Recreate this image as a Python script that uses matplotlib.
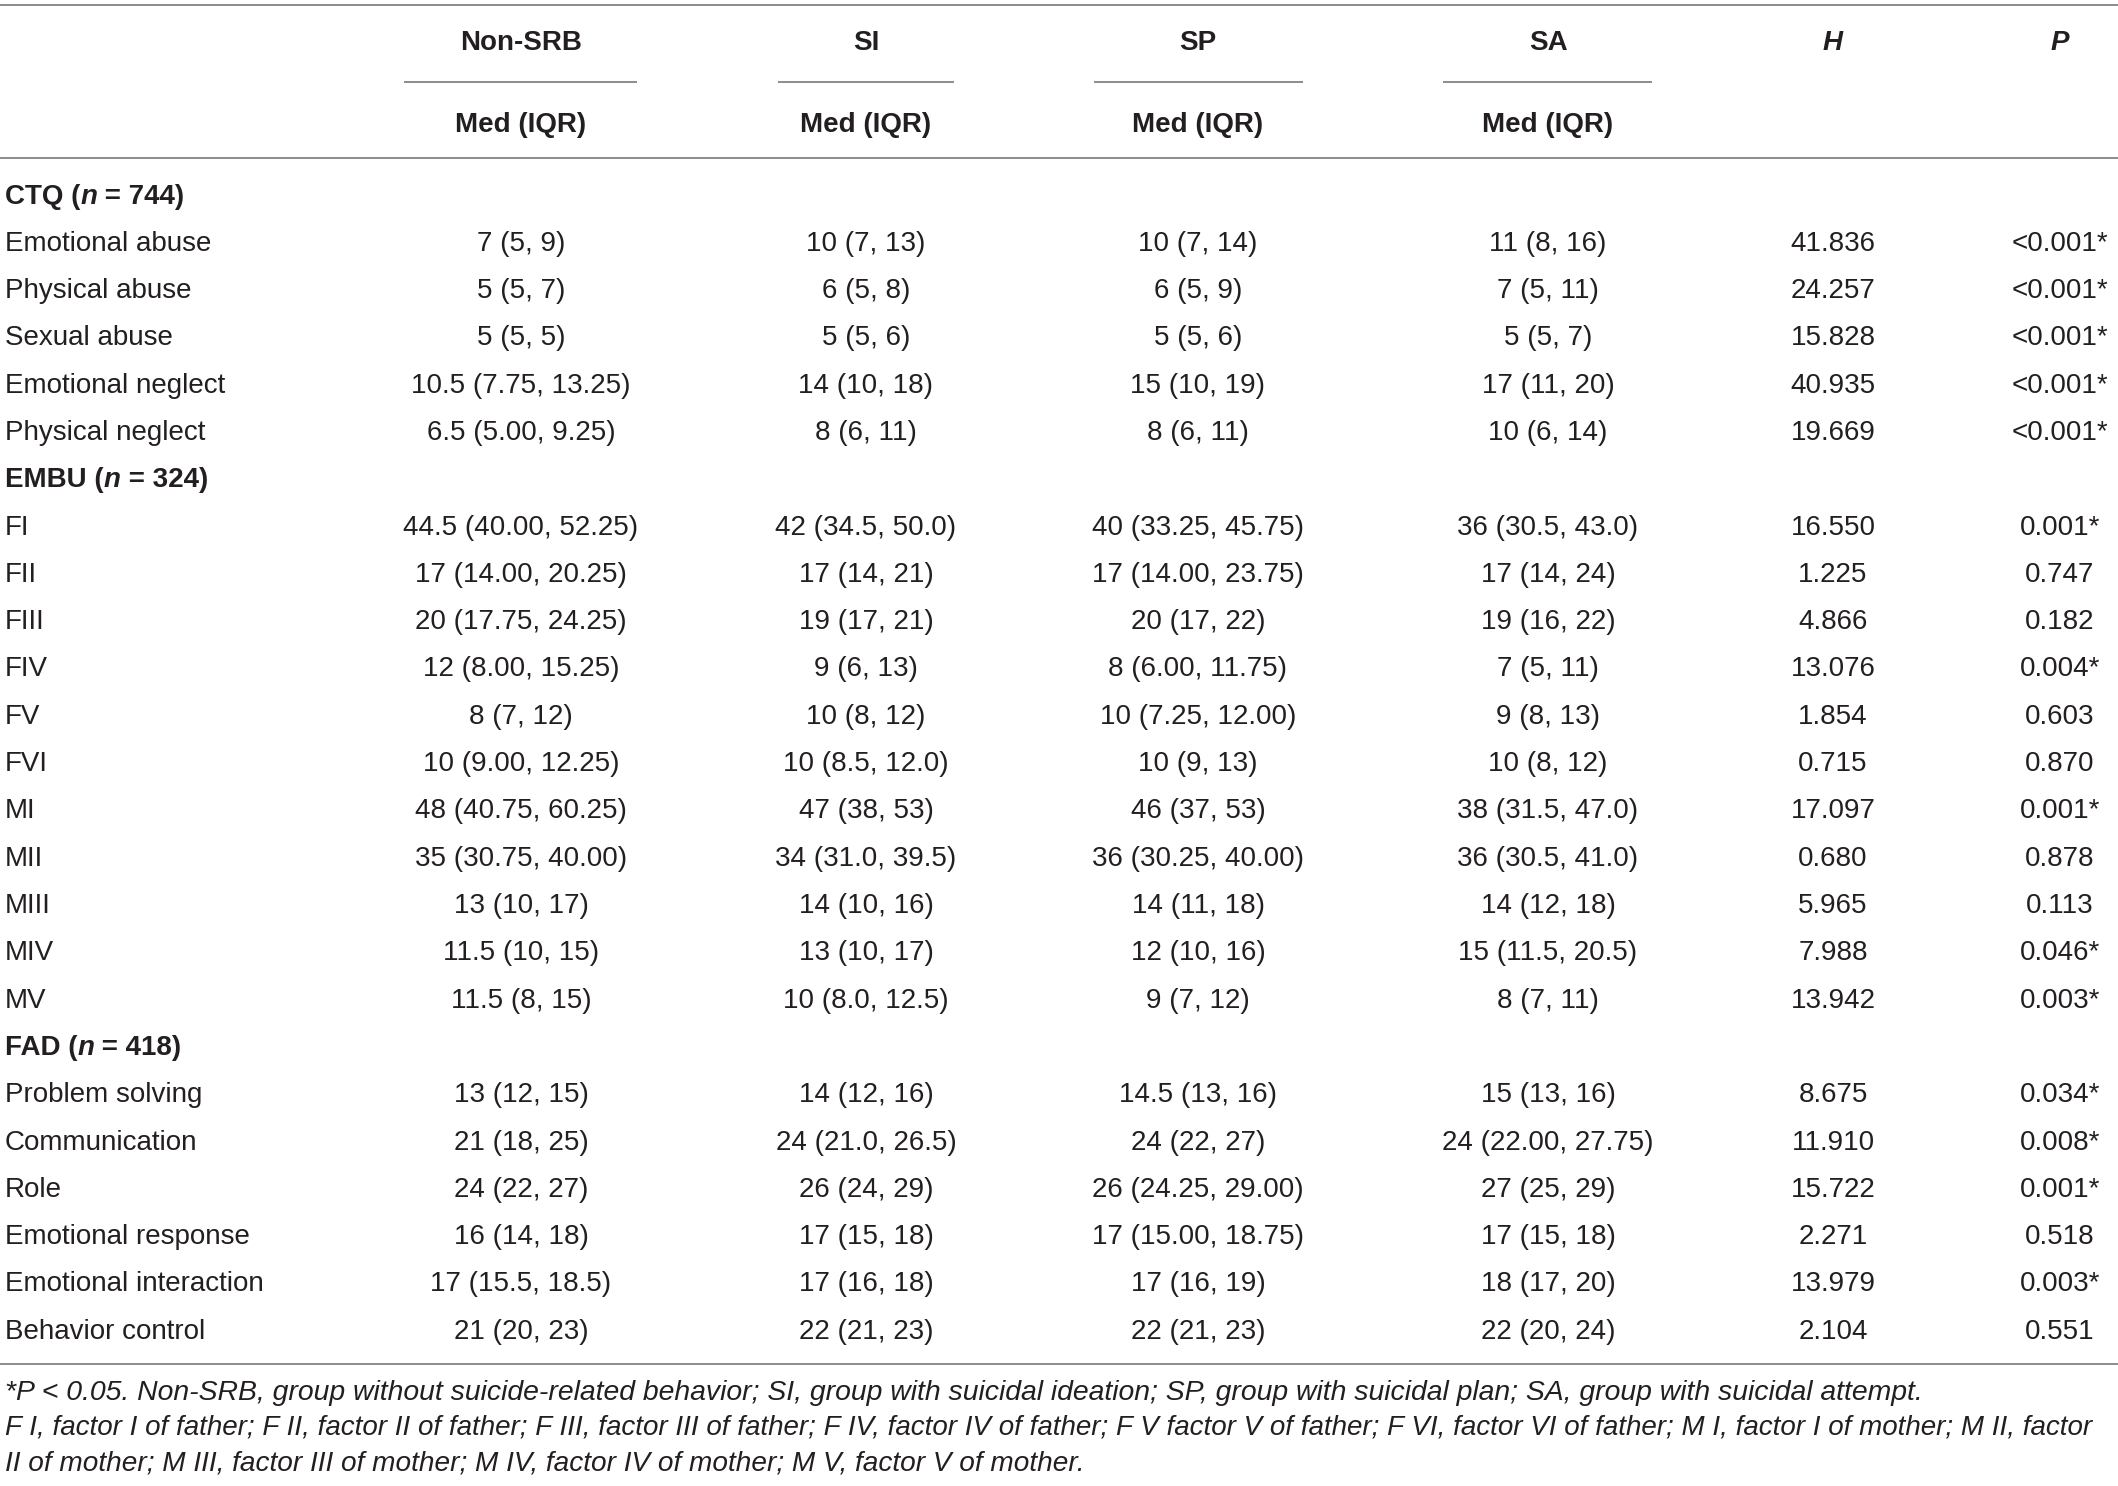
import matplotlib.pyplot as plt

plt.rcParams['font.family'] = ['Liberation Sans', 'DejaVu Sans']

# ---- table data ----
groups = ['Non-SRB', 'SI', 'SP', 'SA']
sections = ['CTQ', 'EMBU', 'FAD']
section_n = [744, 324, 418]

ctq_labels = ['Emotional abuse', 'Physical abuse', 'Sexual abuse',
              'Emotional neglect', 'Physical neglect']
ctq_nonsrb = ['7 (5, 9)', '5 (5, 7)', '5 (5, 5)', '10.5 (7.75, 13.25)', '6.5 (5.00, 9.25)']
ctq_si = ['10 (7, 13)', '6 (5, 8)', '5 (5, 6)', '14 (10, 18)', '8 (6, 11)']
ctq_sp = ['10 (7, 14)', '6 (5, 9)', '5 (5, 6)', '15 (10, 19)', '8 (6, 11)']
ctq_sa = ['11 (8, 16)', '7 (5, 11)', '5 (5, 7)', '17 (11, 20)', '10 (6, 14)']
ctq_h = ['41.836', '24.257', '15.828', '40.935', '19.669']
ctq_p = ['<0.001*', '<0.001*', '<0.001*', '<0.001*', '<0.001*']

embu_labels = ['FI', 'FII', 'FIII', 'FIV', 'FV', 'FVI', 'MI', 'MII', 'MIII', 'MIV', 'MV']
embu_nonsrb = ['44.5 (40.00, 52.25)', '17 (14.00, 20.25)', '20 (17.75, 24.25)',
               '12 (8.00, 15.25)', '8 (7, 12)', '10 (9.00, 12.25)', '48 (40.75, 60.25)',
               '35 (30.75, 40.00)', '13 (10, 17)', '11.5 (10, 15)', '11.5 (8, 15)']
embu_si = ['42 (34.5, 50.0)', '17 (14, 21)', '19 (17, 21)', '9 (6, 13)', '10 (8, 12)',
           '10 (8.5, 12.0)', '47 (38, 53)', '34 (31.0, 39.5)', '14 (10, 16)',
           '13 (10, 17)', '10 (8.0, 12.5)']
embu_sp = ['40 (33.25, 45.75)', '17 (14.00, 23.75)', '20 (17, 22)', '8 (6.00, 11.75)',
           '10 (7.25, 12.00)', '10 (9, 13)', '46 (37, 53)', '36 (30.25, 40.00)',
           '14 (11, 18)', '12 (10, 16)', '9 (7, 12)']
embu_sa = ['36 (30.5, 43.0)', '17 (14, 24)', '19 (16, 22)', '7 (5, 11)', '9 (8, 13)',
           '10 (8, 12)', '38 (31.5, 47.0)', '36 (30.5, 41.0)', '14 (12, 18)',
           '15 (11.5, 20.5)', '8 (7, 11)']
embu_h = ['16.550', '1.225', '4.866', '13.076', '1.854', '0.715', '17.097',
          '0.680', '5.965', '7.988', '13.942']
embu_p = ['0.001*', '0.747', '0.182', '0.004*', '0.603', '0.870', '0.001*',
          '0.878', '0.113', '0.046*', '0.003*']

fad_labels = ['Problem solving', 'Communication', 'Role', 'Emotional response',
              'Emotional interaction', 'Behavior control']
fad_nonsrb = ['13 (12, 15)', '21 (18, 25)', '24 (22, 27)', '16 (14, 18)',
              '17 (15.5, 18.5)', '21 (20, 23)']
fad_si = ['14 (12, 16)', '24 (21.0, 26.5)', '26 (24, 29)', '17 (15, 18)',
          '17 (16, 18)', '22 (21, 23)']
fad_sp = ['14.5 (13, 16)', '24 (22, 27)', '26 (24.25, 29.00)', '17 (15.00, 18.75)',
          '17 (16, 19)', '22 (21, 23)']
fad_sa = ['15 (13, 16)', '24 (22.00, 27.75)', '27 (25, 29)', '17 (15, 18)',
          '18 (17, 20)', '22 (20, 24)']
fad_h = ['8.675', '11.910', '15.722', '2.271', '13.979', '2.104']
fad_p = ['0.034*', '0.008*', '0.001*', '0.518', '0.003*', '0.551']

footnotes = [
    '*P < 0.05. Non-SRB, group without suicide-related behavior; SI, group with '
    'suicidal ideation; SP, group with suicidal plan; SA, group with suicidal attempt.',
    'F I, factor I of father; F II, factor II of father; F III, factor III of father; '
    'F IV, factor IV of father; F V factor V of father; F VI, factor VI of father; '
    'M I, factor I of mother; M II, factor',
    'II of mother; M III, factor III of mother; M IV, factor IV of mother; '
    'M V, factor V of mother.',
]

blocks = [
    (ctq_labels, [ctq_nonsrb, ctq_si, ctq_sp, ctq_sa, ctq_h, ctq_p]),
    (embu_labels, [embu_nonsrb, embu_si, embu_sp, embu_sa, embu_h, embu_p]),
    (fad_labels, [fad_nonsrb, fad_si, fad_sp, fad_sa, fad_h, fad_p]),
]

# ---- layout (pixels) ----
W, H = 2118, 1486
ink = '#231f20'
rule = '#8c8c8c'
fs = 20
col_x = [521, 866, 1198, 1548, 1833, 2060]
sub_rules = [(404, 637), (778, 954), (1094, 1303), (1443, 1652)]
row0, step = 196.5, 47.3
foot_sizes = [20.4, 20.0, 20.2]

fig = plt.figure(figsize=(W / 100, H / 100), dpi=100)
ax = fig.add_axes([0, 0, 1, 1])
ax.set_xlim(0, W)
ax.set_ylim(H, 0)
ax.axis('off')
renderer = fig.canvas.get_renderer()


def runs(x, y, parts, size=fs):
    # draw text pieces with mixed styles one after the other
    for s, weight, style in parts:
        t = ax.text(x, y, s, fontsize=size, weight=weight, style=style,
                    ha='left', va='center', color=ink)
        x += t.get_window_extent(renderer=renderer).width


# rules
for yy in [5, 158, 1364]:
    ax.plot([0, W], [yy, yy], color=rule, lw=1.4, solid_capstyle='butt')
for x0, x1 in sub_rules:
    ax.plot([x0, x1], [82, 82], color=rule, lw=1.4, solid_capstyle='butt')

# header
for g, x in zip(groups, col_x):
    ax.text(x, 43, g, fontsize=fs, weight='bold', ha='center', va='center', color=ink)
    ax.text(x, 125, 'Med (IQR)', fontsize=fs, weight='bold', ha='center', va='center', color=ink)
ax.text(col_x[4], 43, 'H', fontsize=fs, weight='bold', style='italic',
        ha='center', va='center', color=ink)
ax.text(col_x[5], 43, 'P', fontsize=fs, weight='bold', style='italic',
        ha='center', va='center', color=ink)

# body
i = 0
for name, n, (labels, cols) in zip(sections, section_n, blocks):
    y = row0 + i * step
    runs(5, y, [(name + ' (', 'bold', 'normal'), ('n', 'bold', 'italic'),
                (' = %d)' % n, 'bold', 'normal')])
    i += 1
    for r, lab in enumerate(labels):
        y = row0 + i * step
        ax.text(5, y, lab, fontsize=fs, ha='left', va='center', color=ink)
        for c, x in enumerate(col_x):
            ax.text(x, y, cols[c][r], fontsize=fs, ha='center', va='center', color=ink)
        i += 1

# footnotes
for k, line in enumerate(footnotes):
    ax.text(5, 1393 + k * 35, line, fontsize=foot_sizes[k], style='italic',
            ha='left', va='center', color=ink)

fig.savefig('out.png', dpi=100)
